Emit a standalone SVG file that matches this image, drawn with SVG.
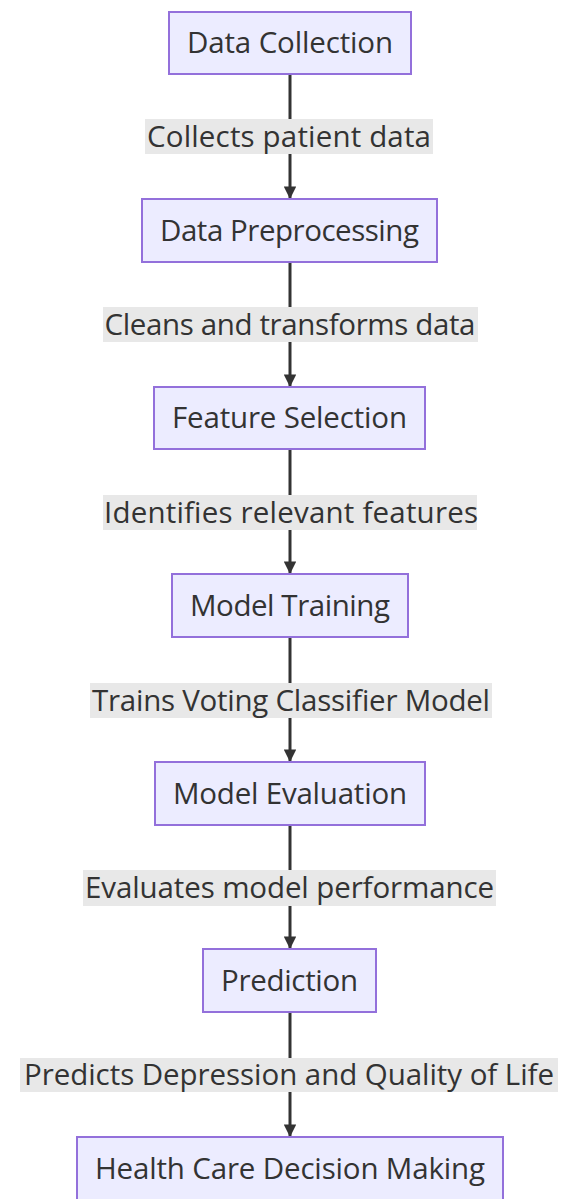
<svg xmlns="http://www.w3.org/2000/svg" width="567" height="1199" viewBox="0 0 567 1199">
<defs>
<style>
.node rect{fill:#ECECFF;stroke:#9370DB;stroke-width:2}
.node text,.elabel text{font-family:"Open Sans","Noto Sans",sans-serif;font-size:29.5px;fill:#333333;text-anchor:middle}
.elabel rect{fill:#E8E8E8;stroke:none}
.edge{stroke:#333333;stroke-width:3;fill:none}
</style>
<marker id="arr" viewBox="0 0 10 10" refX="10" refY="5" markerWidth="4.2" markerHeight="4.2" markerUnits="strokeWidth" orient="auto">
<path d="M0,0 L10,5 L0,10 z" fill="#333333"/>
</marker>
</defs>
<rect width="567" height="1199" fill="#ffffff"/>
<g id="connectors">
<line class="edge" x1="290" y1="74" x2="290" y2="199" marker-end="url(#arr)"/>
<line class="edge" x1="290" y1="262" x2="290" y2="387" marker-end="url(#arr)"/>
<line class="edge" x1="290" y1="449" x2="290" y2="574" marker-end="url(#arr)"/>
<line class="edge" x1="290" y1="637" x2="290" y2="762" marker-end="url(#arr)"/>
<line class="edge" x1="290" y1="825" x2="290" y2="949" marker-end="url(#arr)"/>
<line class="edge" x1="290" y1="1012" x2="290" y2="1137" marker-end="url(#arr)"/>
<g class="elabel" id="label1"><rect x="145" y="119" width="288" height="35"/><text x="289" y="146.5" textLength="284" lengthAdjust="spacing">Collects patient data</text></g>
<g class="elabel" id="label2"><rect x="103" y="307" width="375" height="35"/><text x="290" y="334.5" textLength="371" lengthAdjust="spacing">Cleans and transforms data</text></g>
<g class="elabel" id="label3"><rect x="103" y="495" width="374" height="35"/><text x="291" y="522.5" textLength="374" lengthAdjust="spacing">Identifies relevant features</text></g>
<g class="elabel" id="label4"><rect x="90" y="683" width="402" height="35"/><text x="291" y="710.5" textLength="398" lengthAdjust="spacing">Trains Voting Classifier Model</text></g>
<g class="elabel" id="label5"><rect x="83" y="870" width="413" height="36"/><text x="289.5" y="898" textLength="409" lengthAdjust="spacing">Evaluates model performance</text></g>
<g class="elabel" id="label6"><rect x="20" y="1058" width="538" height="34"/><text x="289" y="1085" textLength="530" lengthAdjust="spacing">Predicts Depression and Quality of Life</text></g>
</g>
<g class="node" id="n1"><rect x="169" y="12" width="242" height="62"/><text x="290" y="53" textLength="206" lengthAdjust="spacing">Data Collection</text></g>
<g class="node" id="n2"><rect x="142" y="199" width="295" height="63"/><text x="289.5" y="240.5" textLength="259" lengthAdjust="spacing">Data Preprocessing</text></g>
<g class="node" id="n3"><rect x="154" y="387" width="271" height="62"/><text x="289.5" y="428" textLength="235" lengthAdjust="spacing">Feature Selection</text></g>
<g class="node" id="n4"><rect x="172" y="574" width="236" height="63"/><text x="290" y="615.5" textLength="200" lengthAdjust="spacing">Model Training</text></g>
<g class="node" id="n5"><rect x="155" y="762" width="270" height="63"/><text x="290" y="803.5" textLength="234" lengthAdjust="spacing">Model Evaluation</text></g>
<g class="node" id="n6"><rect x="203" y="949" width="173" height="63"/><text x="289.5" y="990.5" textLength="137" lengthAdjust="spacing">Prediction</text></g>
<g class="node" id="n7"><rect x="77" y="1137" width="426" height="64"/><text x="290" y="1179" textLength="390" lengthAdjust="spacing">Health Care Decision Making</text></g>
</svg>
